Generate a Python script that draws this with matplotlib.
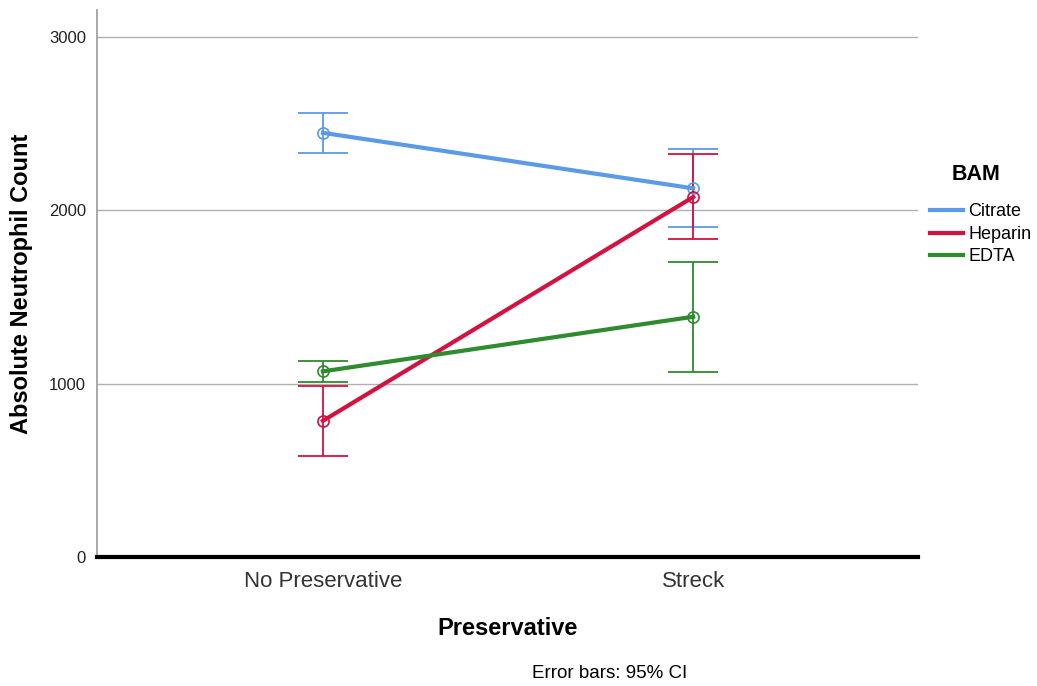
import matplotlib
matplotlib.use("Agg")
import matplotlib.pyplot as plt
import numpy as np

plt.rcParams['font.family'] = ['Liberation Sans', 'DejaVu Sans']

# Group means and 95% confidence intervals
preservatives = ["No Preservative", "Streck"]
bam_groups = ["Citrate", "Heparin", "EDTA"]
citrate_mean = [2445, 2125]
citrate_low = [2330, 1900]
citrate_high = [2560, 2350]
heparin_mean = [785, 2075]
heparin_low = [585, 1835]
heparin_high = [985, 2325]
edta_mean = [1070, 1385]
edta_low = [1010, 1065]
edta_high = [1130, 1700]
y_ticks = [0, 1000, 2000, 3000]

colors = {"Citrate": "#5a9ae6", "Heparin": "#d4113f", "EDTA": "#2e8b2e"}
series = {
    "Citrate": (citrate_mean, citrate_low, citrate_high),
    "Heparin": (heparin_mean, heparin_low, heparin_high),
    "EDTA": (edta_mean, edta_low, edta_high),
}

fig = plt.figure(figsize=(10.37, 6.86), dpi=100)
ax = fig.add_axes([97/1037, 1-557/686, (918-97)/1037, (557-10)/686])

x = np.arange(len(preservatives))
handles = []
for name in bam_groups:
    m, lo, hi = (np.array(v, dtype=float) for v in series[name])
    c = colors[name]
    ax.errorbar(x, m, yerr=[m - lo, hi - m], fmt='none', ecolor=c,
                elinewidth=1.3, capsize=18, capthick=1.3, zorder=3)
    line, = ax.plot(x, m, color=c, lw=3, zorder=4, label=name)
    ax.plot(x, m, 'o', ms=8, mfc='none', mec=c, mew=1.2, zorder=5)
    handles.append(line)

ax.set_xlim(-0.610, 1.607)
ax.set_ylim(0, 3153)
ax.set_xticks(x)
ax.set_xticklabels(preservatives, fontsize=16, color='#333333')
ax.set_yticks(y_ticks)
ax.set_yticklabels([str(t) for t in y_ticks], fontsize=12, color='#222222')
ax.tick_params(axis='both', length=0)
ax.tick_params(axis='x', pad=10)
ax.tick_params(axis='y', pad=8)
for t in y_ticks[1:]:
    ax.axhline(t, color='#b0b0b0', lw=1, zorder=1)

for s in ['top', 'right']:
    ax.spines[s].set_visible(False)
ax.spines['left'].set_color('#999999')
ax.spines['left'].set_linewidth(1.2)
ax.spines['bottom'].set_color('black')
ax.spines['bottom'].set_linewidth(3)

ax.set_ylabel("Absolute Neutrophil Count", fontsize=17, fontweight='bold')
ax.yaxis.set_label_coords((33 - 97) / 821, 0.5)
ax.set_xlabel("Preservative", fontsize=17, fontweight='bold', labelpad=18)

leg = fig.legend(handles=handles, labels=bam_groups, loc='upper left',
                 bbox_to_anchor=(914/1037, 1-187/686), frameon=False,
                 fontsize=13, handlelength=1.8,
                 handletextpad=0.3, labelspacing=0.31)
for lh in leg.get_lines():
    lh.set_linewidth(3)
fig.text(976/1037, 1-175/686, "BAM", fontsize=15.5, fontweight='bold',
         ha='center', va='center')

fig.text(610/1037, 1-673/686, "Error bars: 95% CI", fontsize=13.5, ha='center', va='center')

fig.savefig("out.png", dpi=100)
